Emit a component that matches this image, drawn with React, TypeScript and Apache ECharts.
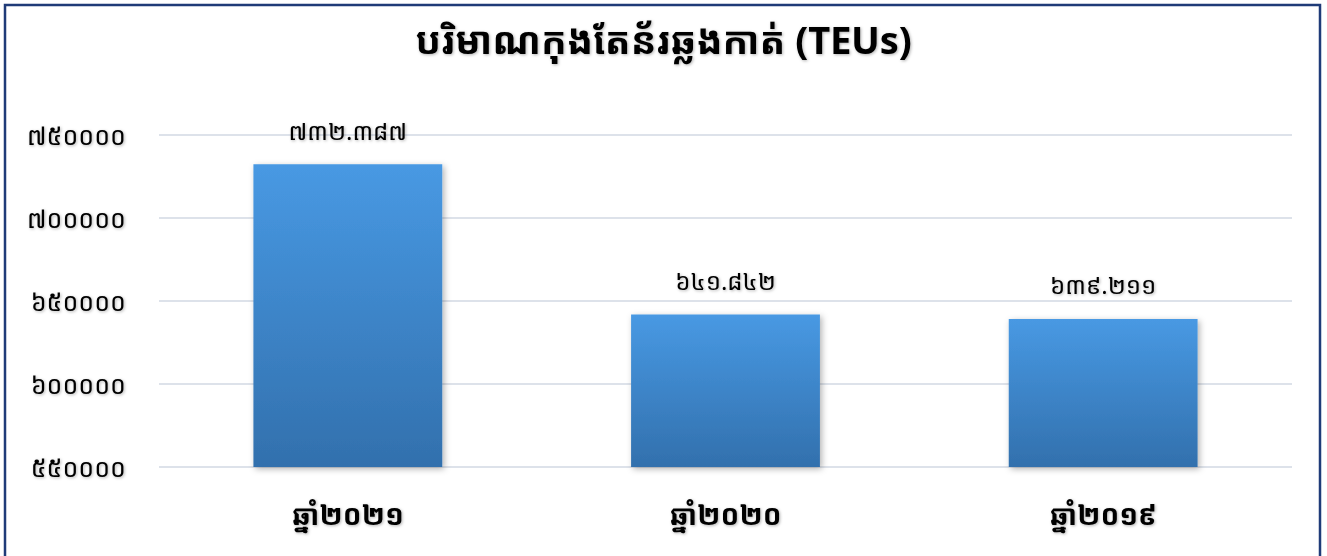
import React, { useEffect, useRef } from "react";
import * as echarts from "echarts";

const title = "បរិមាណកុងតែន័រឆ្លងកាត់ (TEUs)";
const categories = ["ឆ្នាំ២០២១", "ឆ្នាំ២០២០", "ឆ្នាំ២០១៩"];
const values = [732387, 641842, 639211];
const yMin = 550000;
const yMax = 750000;
const yStep = 50000;

const khmerDigits = "០១២៣៤៥៦៧៨៩";
const toKhmer = (s: string) => s.replace(/[0-9]/g, (d) => khmerDigits[Number(d)]);
const dotThousands = (n: number) => String(n).replace(/\B(?=(\d{3})+(?!\d))/g, ".");

const FONT = "'Noto Sans Khmer', 'Khmer OS', 'DejaVu Sans', 'Noto Sans', sans-serif";

export default function App() {
  const ref = useRef<HTMLDivElement>(null);
  useEffect(() => {
    if (!ref.current) return;
    const chart = echarts.init(ref.current, undefined, { renderer: "svg" });
    const textShadow = {
      textShadowColor: "rgba(0,0,0,0.3)",
      textShadowBlur: 3,
      textShadowOffsetX: 1,
      textShadowOffsetY: 1,
    };
    chart.setOption({
      animation: false,
      backgroundColor: "#ffffff",
      title: {
        text: title,
        left: "center",
        top: 15,
        textStyle: {
          fontFamily: FONT,
          fontSize: 38,
          fontWeight: "bold",
          color: "#000000",
          ...textShadow,
        },
      },
      grid: { left: 159, right: 35, top: 135, bottom: 89 },
      xAxis: {
        type: "category",
        data: categories,
        axisLine: { show: false },
        axisTick: { show: false },
        axisLabel: {
          margin: 33,
          fontFamily: FONT,
          fontSize: 28,
          fontWeight: "bold",
          color: "#000000",
          ...textShadow,
        },
      },
      yAxis: {
        type: "value",
        min: yMin,
        max: yMax,
        interval: yStep,
        axisLine: { show: false },
        axisTick: { show: false },
        splitLine: { lineStyle: { color: "#dde2ea", width: 2 } },
        axisLabel: {
          margin: 33,
          fontFamily: FONT,
          fontSize: 25,
          color: "#000000",
          formatter: (v: number) => toKhmer(String(v)),
          ...textShadow,
        },
      },
      series: [
        {
          type: "bar",
          data: values,
          barWidth: "50%",
          itemStyle: {
            color: new echarts.graphic.LinearGradient(0, 0, 0, 1, [
              { offset: 0, color: "#4899e3" },
              { offset: 1, color: "#3270ad" },
            ]),
            shadowColor: "rgba(0,0,0,0.3)",
            shadowBlur: 6,
            shadowOffsetX: 2,
            shadowOffsetY: 2,
          },
          label: {
            show: true,
            position: "top",
            distance: 22,
            fontFamily: FONT,
            fontSize: 24,
            color: "#000000",
            formatter: (p: any) => toKhmer(dotThousands(p.value)),
            ...textShadow,
          },
        },
      ],
      graphic: [
        {
          type: "polyline",
          shape: { points: [[5, 580], [5, 5], [1320, 5], [1320, 580]] },
          style: { stroke: "#1f3b78", lineWidth: 2.5, fill: "none" },
          silent: true,
        },
      ],
    });
    return () => chart.dispose();
  }, []);
  return (
    <div
      ref={ref}
      style={{ position: "absolute", left: 0, top: 0, width: 1327, height: 556 }}
    />
  );
}
